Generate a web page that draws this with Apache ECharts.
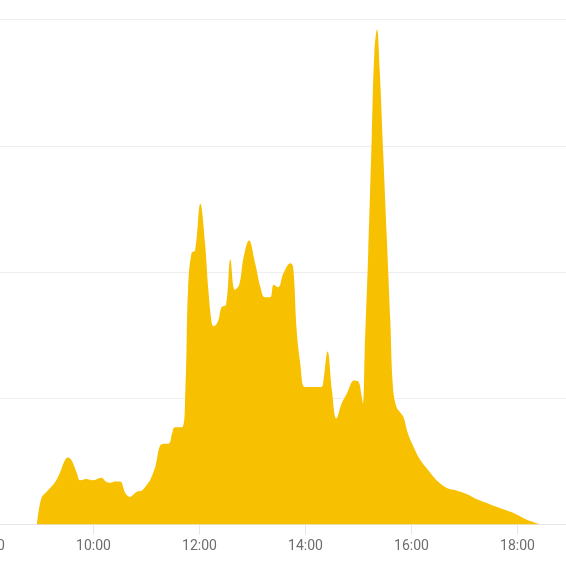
<!DOCTYPE html>
<html>
<head>
<meta charset="utf-8">
<script src="https://cdn.jsdelivr.net/npm/echarts@6/dist/echarts.min.js"></script>
<style>html,body{margin:0;padding:0;background:#fff}#c{width:566px;height:567px}</style>
</head>
<body>
<div id="c"></div>
<script>
var times = ["08:56","09:01","09:07","09:16","09:22","09:27","09:31","09:35","09:41","09:45","09:52","09:59","10:09","10:14","10:19","10:24","10:30","10:36","10:41","10:49","10:55","11:02","11:04","11:10","11:15","11:19","11:25","11:29","11:32","11:40","11:44","11:47","11:51","11:55","12:01","12:06","12:10","12:14","12:16","12:21","12:25","12:30","12:35","12:40","12:45","12:50","12:56","13:03","13:09","13:14","13:20","13:24","13:29","13:35","13:43","13:46","13:50","13:54","13:59","14:05","14:18","14:20","14:25","14:30","14:35","14:41","14:47","14:55","15:00","15:03","15:05","15:07","15:11","15:15","15:18","15:21","15:24","15:28","15:32","15:36","15:39","15:43","15:47","15:51","15:56","16:02","16:10","16:19","16:30","16:40","16:51","17:03","17:14","17:25","17:36","17:48","17:59","18:10","18:26"];
var values = [0,21,26,33,41,50,53,51,41,35,36,35,37,34,33,34,34,25,22,26,27,33,35,46,62,64,64,72,77,77,106,186,215,217,254,225,186,159,157,161,172,174,210,186,190,212,225,207,188,180,180,190,188,199,207,204,154,128,109,109,109,112,137,106,84,96,104,114,113,104,96,136,215,307,374,392,360,294,228,162,109,93,89,85,72,62,51,43,34,29,27,24,20,17,14,11,8,4,0];
var xTickLabels = ["08:00","10:00","12:00","14:00","16:00","18:00"];

function toMin(s){var p=s.split(":");return +p[0]*60 + +p[1];}
function toLabel(m){var h=Math.floor(m/60),mm=m%60;return (h<10?"0":"")+h+":"+(mm<10?"0":"")+mm;}

var data = times.map(function(t,i){return [toMin(t), values[i]];});

var chart = echarts.init(document.getElementById('c'));
chart.setOption({
  animation:false,
  grid:{left:-12.5,right:-4.5,top:19.5,bottom:42.5,containLabel:false,outerBoundsMode:'none'},
  xAxis:{
    type:'value',
    min:toMin(xTickLabels[0]),
    max:19*60,
    interval:120,
    splitLine:{show:false},
    axisLine:{lineStyle:{color:'#e6e6e6'}},
    axisTick:{show:true,length:10,lineStyle:{color:'#e6e6e6'}},
    axisLabel:{margin:15,color:'#6e6e6e',fontSize:14,fontFamily:'Roboto',showMaxLabel:false,hideOverlap:false,
      formatter:function(v){return toLabel(v);}}
  },
  yAxis:{
    type:'value',min:0,max:400,interval:100,
    axisLabel:{show:false},
    axisLine:{show:false},axisTick:{show:false},
    splitLine:{lineStyle:{color:'#eeeeee'}}
  },
  series:[{
    type:'line',
    data:data,
    smooth:0.4,
    showSymbol:false,
    lineStyle:{width:0,color:'#f7c000'},
    areaStyle:{color:'#f7c000',opacity:1}
  }]
});
</script>
</body>
</html>
